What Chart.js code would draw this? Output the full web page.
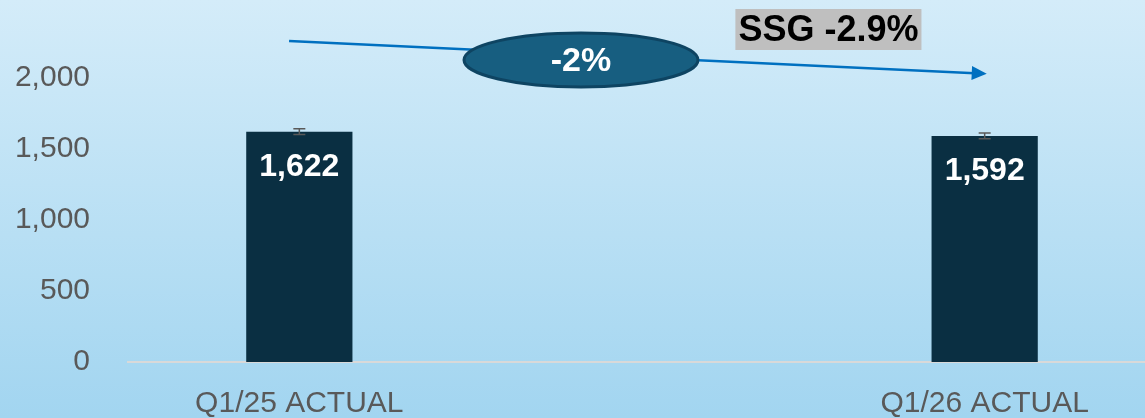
<!DOCTYPE html>
<html>
<head>
<meta charset="utf-8">
<script src="https://cdn.jsdelivr.net/npm/chart.js@4.4.1/dist/chart.umd.min.js"></script>
<style>
  html, body { margin: 0; padding: 0; overflow: hidden; }
  body { width: 1145px; height: 418px; background: linear-gradient(to bottom, #D4ECF9 0%, #A2D5F0 100%); }
  #wrap { position: relative; width: 1156px; height: 418px; }
</style>
</head>
<body>
<div id="wrap"><canvas id="c"></canvas></div>
<script>
const categories = ['Q1/25 ACTUAL', '', 'Q1/26 ACTUAL'];
const values = [1622, null, 1592];
const errors = [20, null, 20];
const valueLabels = ['1,622', '', '1,592'];
const yTicks = [0, 500, 1000, 1500, 2000];
const changeLabel = '-2%';
const ssgLabel = 'SSG -2.9%';
// arrow / annotation anchors in data coordinates (category index, value)
const arrowFrom = [-0.03, 2260];
const arrowTo = [2.006, 2030];
const ellipseAt = [0.822, 2127];
const ssgAt = [1.544, 2338];

const FONT = "'Liberation Sans', Arial, sans-serif";

const overlay = {
  id: 'overlay',
  afterDatasetsDraw(chart) {
    const ctx = chart.ctx;
    const xs = chart.scales.x, ys = chart.scales.y;
    const meta = chart.getDatasetMeta(0);
    ctx.save();
    meta.data.forEach((bar, i) => {
      if (values[i] == null) return;
      const e = errors[i];
      const yTop = ys.getPixelForValue(values[i] + e);
      const yBot = ys.getPixelForValue(values[i] - e);
      ctx.strokeStyle = '#595959';
      ctx.lineWidth = 1.5;
      ctx.beginPath();
      ctx.moveTo(bar.x, yTop); ctx.lineTo(bar.x, yBot);
      ctx.moveTo(bar.x - 6, yTop); ctx.lineTo(bar.x + 6, yTop);
      ctx.moveTo(bar.x - 6, yBot); ctx.lineTo(bar.x + 6, yBot);
      ctx.stroke();
      ctx.fillStyle = '#FFFFFF';
      ctx.font = 'bold 32px ' + FONT;
      ctx.textAlign = 'center';
      ctx.textBaseline = 'middle';
      ctx.fillText(valueLabels[i], bar.x, bar.y + 35);
    });
    const x1 = xs.getPixelForValue(arrowFrom[0]), y1 = ys.getPixelForValue(arrowFrom[1]);
    const x2 = xs.getPixelForValue(arrowTo[0]), y2 = ys.getPixelForValue(arrowTo[1]);
    const ang = Math.atan2(y2 - y1, x2 - x1);
    ctx.strokeStyle = '#0070C0';
    ctx.fillStyle = '#0070C0';
    ctx.lineWidth = 2.5;
    ctx.beginPath();
    ctx.moveTo(x1, y1);
    ctx.lineTo(x2 - 12 * Math.cos(ang), y2 - 12 * Math.sin(ang));
    ctx.stroke();
    ctx.beginPath();
    ctx.moveTo(x2, y2);
    ctx.lineTo(x2 - 15 * Math.cos(ang) + 7 * Math.sin(ang), y2 - 15 * Math.sin(ang) - 7 * Math.cos(ang));
    ctx.lineTo(x2 - 15 * Math.cos(ang) - 7 * Math.sin(ang), y2 - 15 * Math.sin(ang) + 7 * Math.cos(ang));
    ctx.closePath();
    ctx.fill();
    const ex = xs.getPixelForValue(ellipseAt[0]), ey = ys.getPixelForValue(ellipseAt[1]);
    ctx.beginPath();
    ctx.ellipse(ex, ey, 117, 27, 0, 0, Math.PI * 2);
    ctx.fillStyle = '#175E80';
    ctx.fill();
    ctx.lineWidth = 3;
    ctx.strokeStyle = '#0E4462';
    ctx.stroke();
    ctx.fillStyle = '#FFFFFF';
    ctx.font = 'bold 34px ' + FONT;
    ctx.textAlign = 'center';
    ctx.textBaseline = 'middle';
    ctx.fillText(changeLabel, ex, ey + 2);
    const sx = xs.getPixelForValue(ssgAt[0]), sy = ys.getPixelForValue(ssgAt[1]);
    ctx.font = 'bold 36px ' + FONT;
    const w = ctx.measureText(ssgLabel).width;
    ctx.fillStyle = '#BFBFBF';
    ctx.fillRect(sx - w / 2 - 3, sy - 21, w + 6, 41);
    ctx.fillStyle = '#000000';
    ctx.fillText(ssgLabel, sx, sy + 1);
    ctx.restore();
  }
};

new Chart(document.getElementById('c'), {
  type: 'bar',
  data: {
    labels: categories,
    datasets: [{
      data: values,
      backgroundColor: '#0A2F42',
      categoryPercentage: 1,
      barPercentage: 0.31
    }]
  },
  options: {
    responsive: true,
    maintainAspectRatio: false,
    animation: false,
    layout: { padding: { left: 0, top: 7, right: 0, bottom: 0 } },
    plugins: { legend: { display: false }, tooltip: { enabled: false } },
    scales: {
      x: {
        grid: { display: false, drawTicks: false },
        border: { display: true, color: '#D9D9D9', width: 2 },
        ticks: { color: '#595959', font: { family: FONT, size: 30, lineHeight: 1 }, padding: 27, maxRotation: 0, autoSkip: false },
        afterFit(axis) { axis.height = 56; axis.paddingTop = 0; axis.paddingBottom = 0; }
      },
      y: {
        min: 0, max: 2500,
        afterBuildTicks(axis) { axis.ticks = yTicks.concat([2500]).map(v => ({ value: v })); },
        grid: { display: false, drawTicks: false },
        border: { display: false },
        ticks: {
          color: '#595959', font: { family: FONT, size: 30, lineHeight: 1 }, padding: 38,
          callback: v => v === 2500 ? '' : v.toLocaleString('en-US')
        },
        afterFit(axis) { axis.width = 128; axis.paddingTop = 0; axis.paddingBottom = 0; }
      }
    }
  },
  plugins: [overlay]
});
</script>
</body>
</html>
